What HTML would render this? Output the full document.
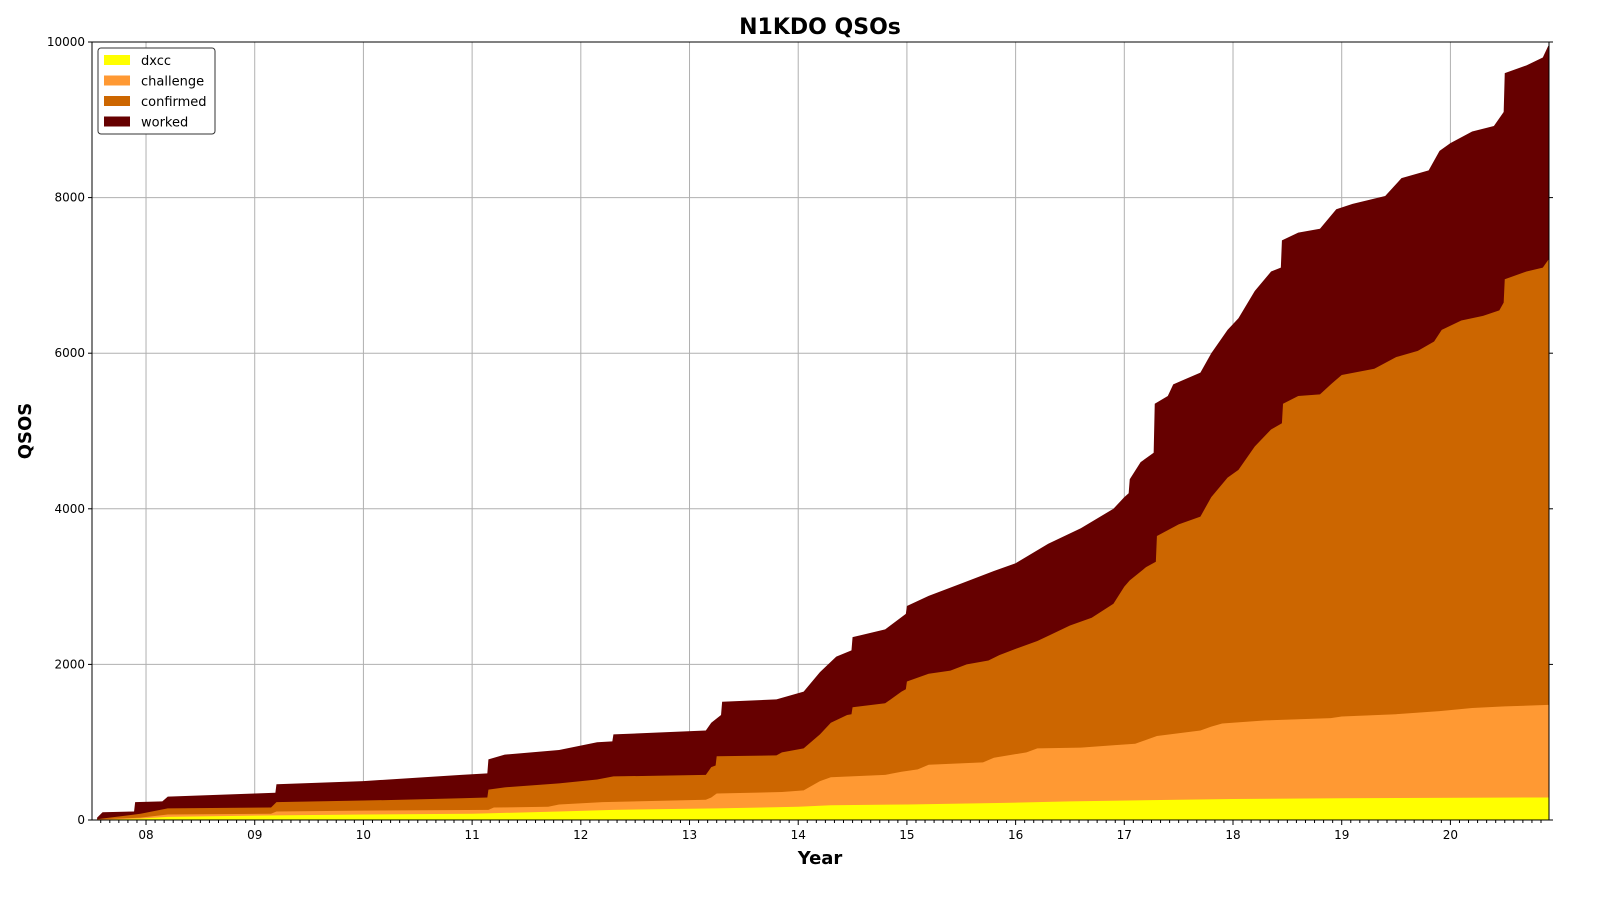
<!DOCTYPE html>
<html><head><meta charset="utf-8"><style>
body{margin:0;background:#fff;}
svg text{font-family:"DejaVu Sans","Liberation Sans",sans-serif;}
</style></head><body>
<svg id="chart" width="1600" height="900" xmlns="http://www.w3.org/2000/svg">
<rect width="1600" height="900" fill="#fff"/>
<text x="820" y="34" text-anchor="middle" font-size="22" font-weight="bold">N1KDO QSOs</text>
<text x="820" y="864" text-anchor="middle" font-size="18" font-weight="bold">Year</text>
<text transform="translate(31,431) rotate(-90)" text-anchor="middle" font-size="18" font-weight="bold">QSOS</text>
<g id="grid"></g><g id="areas"></g><g id="axes"></g>
<g>
<rect x="98" y="48" width="117" height="86" rx="3" fill="#fff" stroke="#333" stroke-width="1"/>
<g id="legend"></g>
</g>
</svg>
<script>
const workedX=[2007.55,2007.6,2007.89,2007.9,2008.15,2008.2,2009.0,2009.19,2009.2,2010.0,2010.9,2011.14,2011.15,2011.3,2011.8,2012.15,2012.29,2012.3,2013.15,2013.2,2013.29,2013.3,2013.8,2014.05,2014.2,2014.35,2014.49,2014.5,2014.8,2014.99,2015.0,2015.2,2015.5,2015.8,2016.0,2016.3,2016.6,2016.9,2017.0,2017.04,2017.05,2017.15,2017.27,2017.28,2017.4,2017.45,2017.7,2017.8,2017.95,2018.05,2018.2,2018.35,2018.44,2018.45,2018.6,2018.8,2018.95,2019.1,2019.4,2019.55,2019.8,2019.9,2020.0,2020.2,2020.4,2020.49,2020.5,2020.7,2020.85,2020.9];
const workedY=[30,100,110,230,240,300,340,350,460,500,580,600,780,840,900,1000,1010,1100,1150,1250,1350,1520,1550,1650,1900,2100,2180,2350,2450,2650,2750,2880,3040,3200,3300,3550,3750,4000,4150,4200,4380,4600,4720,5350,5450,5600,5750,6000,6300,6450,6800,7050,7100,7450,7550,7600,7850,7920,8020,8250,8350,8600,8700,8850,8920,9100,9600,9700,9800,9950];
const confX=[2007.55,2007.6,2007.95,2008.2,2009.15,2009.2,2010.0,2010.35,2010.9,2011.14,2011.15,2011.3,2011.8,2012.15,2012.3,2013.15,2013.2,2013.24,2013.25,2013.8,2013.85,2014.05,2014.2,2014.3,2014.45,2014.49,2014.5,2014.8,2014.95,2014.99,2015.0,2015.2,2015.4,2015.55,2015.75,2015.85,2016.0,2016.2,2016.5,2016.7,2016.9,2017.0,2017.05,2017.2,2017.29,2017.3,2017.5,2017.7,2017.8,2017.95,2018.05,2018.2,2018.35,2018.45,2018.46,2018.6,2018.8,2018.9,2019.0,2019.3,2019.5,2019.7,2019.85,2019.92,2020.1,2020.3,2020.45,2020.49,2020.5,2020.7,2020.85,2020.9];
const confY=[10,20,80,150,160,230,250,260,280,290,390,420,470,520,560,580,680,700,820,830,870,920,1100,1250,1350,1360,1450,1500,1650,1680,1780,1880,1920,2000,2050,2120,2200,2300,2500,2600,2780,3000,3080,3250,3320,3650,3800,3900,4150,4400,4500,4800,5020,5100,5350,5450,5470,5600,5720,5800,5950,6030,6150,6300,6420,6480,6550,6650,6950,7050,7100,7200];
const chalX=[2007.55,2007.6,2007.95,2008.2,2009.15,2009.2,2010.0,2011.15,2011.2,2011.7,2011.8,2012.2,2013.15,2013.2,2013.25,2013.85,2014.05,2014.2,2014.3,2014.8,2014.95,2015.1,2015.2,2015.7,2015.8,2016.1,2016.2,2016.6,2016.9,2017.1,2017.3,2017.7,2017.8,2017.9,2018.3,2018.9,2019.0,2019.5,2019.9,2020.2,2020.5,2020.9];
const chalY=[5,10,30,70,80,110,120,130,160,170,200,230,260,290,340,360,380,500,550,580,620,650,710,740,800,870,920,930,960,980,1080,1150,1200,1240,1280,1310,1330,1360,1400,1440,1460,1480];
const dxccX=[2007.55,2007.6,2007.95,2008.2,2009.2,2010.0,2011.0,2011.8,2012.3,2013.25,2014.0,2014.3,2015.0,2015.9,2016.5,2017.5,2018.0,2019.0,2020.9];
const dxccY=[2,5,20,40,60,70,80,110,130,150,170,190,200,220,240,260,270,280,290];
const yTicks=[0,2000,4000,6000,8000,10000];
const xTickYears=[2008,2009,2010,2011,2012,2013,2014,2015,2016,2017,2018,2019,2020];
const xTickLabels=["08","09","10","11","12","13","14","15","16","17","18","19","20"];
const L=92,R=1549,T=42,B=820,X0=2007.503,X1=2020.907;
const xs=v=>L+(v-X0)/(X1-X0)*(R-L);
const ys=v=>B-v/10000*(B-T);
const NS="http://www.w3.org/2000/svg";
function mk(tag,parent,attrs){const e=document.createElementNS(NS,tag);for(const k in attrs)e.setAttribute(k,attrs[k]);parent.appendChild(e);return e;}
const grid=document.getElementById('grid'),areas=document.getElementById('areas'),axes=document.getElementById('axes');
yTicks.forEach(v=>{
 const g=mk('line',grid,{x1:L,x2:R,y1:ys(v),y2:ys(v),stroke:'#b0b0b0','stroke-width':1});
 
 
 mk('line',axes,{x1:L-4,x2:L,y1:ys(v),y2:ys(v),stroke:'#000'});
 mk('line',axes,{x1:R,x2:R+4,y1:ys(v),y2:ys(v),stroke:'#000'});
 const t=mk('text',axes,{x:L-7,y:ys(v)+4,'text-anchor':'end','font-size':12});
 t.textContent=v;
 
 
});
xTickYears.forEach((v,i)=>{
 const g=mk('line',grid,{x1:xs(v),x2:xs(v),y1:T,y2:B,stroke:'#b0b0b0','stroke-width':1});
 
 
 mk('line',axes,{x1:xs(v),x2:xs(v),y1:B,y2:B+5,stroke:'#000'});
 const t=mk('text',axes,{x:xs(v),y:B+19,'text-anchor':'middle','font-size':12});
 t.textContent=xTickLabels[i];
 
 
});
for(let y=2007;y<=2020;y++)for(let m=1;m<12;m++){const v=y+m/12;if(v>X0&&v<X1)mk('line',axes,{x1:xs(v),x2:xs(v),y1:B,y2:B+3,stroke:'#000'});}
function area(X,Y,color,name){
 let d=`M${xs(X[0])},${B}`;
 for(let i=0;i<X.length;i++){d+=` L${xs(X[i])},${ys(Y[i])}`;}
 d+=` L${xs(X1)},${ys(Y[Y.length-1])} L${xs(X1)},${B} Z`;
 const p=mk('path',areas,{d:d,fill:color});
 
 
}
area(workedX,workedY,'#660000','worked-area');
area(confX,confY,'#cc6600','confirmed-area');
area(chalX,chalY,'#ff9933','challenge-area');
area(dxccX,dxccY,'#ffff00','dxcc-area');
mk('rect',axes,{x:L,y:T,width:R-L,height:B-T,fill:'none',stroke:'#000','stroke-width':1});
const leg=document.getElementById('legend');
[['dxcc','#ffff00'],['challenge','#ff9933'],['confirmed','#cc6600'],['worked','#660000']].forEach((e,i)=>{
 const y=60+i*20.5;
 const r=mk('rect',leg,{x:104,y:y-5,width:26,height:10,fill:e[1]});
 
 
 const t=mk('text',leg,{x:141,y:y+5,'font-size':13});
 t.textContent=e[0];
 
 
});
</script>
</body></html>
